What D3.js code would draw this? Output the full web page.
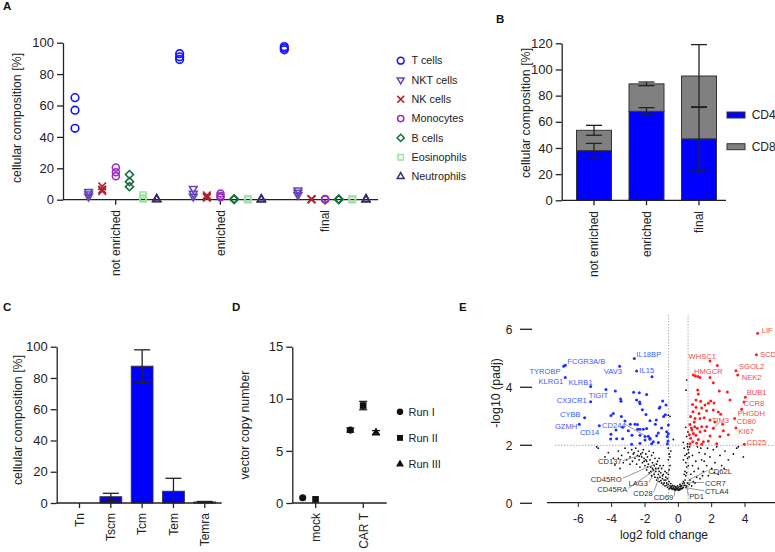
<!DOCTYPE html>
<html><head><meta charset="utf-8">
<script src="https://cdn.jsdelivr.net/npm/d3@7"></script>
<style>
body{margin:0;background:#fff}
svg{font-family:"Liberation Sans",Arial,Helvetica,sans-serif}
</style>
</head><body>
<svg id="fig" width="775" height="552"></svg>
<script>
// ---------------- DATA ----------------
// Panel A
const groupsA = ["not enriched", "enriched", "final"];
const cellTypes = ["T cells", "NKT cells", "NK cells", "Monocytes", "B cells", "Eosinophils", "Neutrophils"];
const ticksA = [0, 20, 40, 60, 80, 100];
const tCells      = [[65, 57, 45.5], [93, 91, 89.3], [97.5, 96.5, 95.5]];
const nktCells    = [[5, 3.5, 2], [7, 4, 2], [6, 4.5, 3]];
const nkCells     = [[8.5, 6.5, 5.5], [2.8, 1.8, 1.2], [0.4, 0.3, 0.2]];
const monocytes   = [[20.5, 17.5, 15], [4, 2.5, 1.5], [0.4, 0.3, 0.2]];
const bCells      = [[16, 11.5, 8.3], [0.4, 0.3, 0.2], [0.3, 0.2, 0.2]];
const eosinophils = [[3, 1, 0.5], [0.3, 0.2, 0.2], [0.3, 0.2, 0.2]];
const neutrophils = [[0.4, 0.3, 0.2], [0.3, 0.2, 0.2], [0.3, 0.2, 0.2]];

// Panel B
const groupsB = ["not enriched", "enriched", "final"];
const ticksB = [0, 20, 40, 60, 80, 100, 120];
const cd4Mean = [38, 68, 47];
const cd4Err  = [5.5, 2.8, 24.5];
const cd8Mean = [15.5, 21, 48];
const cd8Err  = [3.8, 1.4, 24];
const seriesB = ["CD4", "CD8"];

// Panel C
const subsets = ["Tn", "Tscm", "Tcm", "Tem", "Temra"];
const ticksC = [0, 20, 40, 60, 80, 100];
const subsetMean = [0, 4, 87.5, 7.5, 0.6];
const subsetErr  = [0, 2.2, 10.5, 8.3, 0.4];

// Panel D
const groupsD = ["mock", "CAR T"];
const runs = ["Run I", "Run II", "Run III"];
const ticksD = [0, 5, 10, 15];
const vcnMock = [0.5, 0.35, null];
const vcnCar  = [7.0, 9.35, 6.75];
const vcnCarErr = [0.2, 0.4, 0.2];

// Panel E
const ticksEx = [-6, -4, -2, 0, 2, 4];
const ticksEy = [0, 2, 4, 6];
const fcCut = 0.585, padjCut = 2;
const downGenes = [[-6.88,4.73],[-6.78,4.76],[-6.78,4.34],[-5.26,4.03],[-4.34,3.92],[-5.26,3.5],[-5.62,2.95],[-5.94,2.73],[-4.74,2.67],[-1.7,2.24],[-3.52,4.73],[-2.64,4.99],[-2.5,4.56],
 [-1.58,4.36],[-3.78,3.87],[-3.46,3.6],[-3.44,3.52],[-2.68,3.83],[-2.34,3.81],[-1.9,3.75],[-2.5,3.56],[-2.32,3.49],[-2.3,3.43],[-1.14,3.28],[-1.1,3.32],[-0.94,3.53],[-0.74,3.39],
 [-4.04,3.03],[-3.42,2.99],[-3.2,2.84],[-2.16,3.23],[-1.94,3.06],[-1.7,2.85],[-1.32,2.87],[-1.38,2.73],[-0.88,2.99],[-0.78,3.05],[-2.88,2.73],[-2.6,2.73],[-2.44,2.55],[-2.3,2.55],
 [-2.1,2.55],[-1.9,2.58],[-2.45,2.72],[-4.04,2.38],[-3.74,2.53],[-3.34,2.62],[-4.06,2.22],[-3.7,2.23],[-3.34,2.23],[-2.78,2.35],[-2.3,2.35],[-2.0,2.18],[-1.7,2.21],[-1.3,2.33],
 [-1.8,2.31],[-1.5,2.12],[-2.3,2.07],[-2.8,2.04],[-0.7,2.47],[-0.66,2.3],[-0.62,2.15],[-0.66,2.05],[-0.6,2.7],[-0.6,2.4],[-1.0,2.6],[-1.2,2.1],[-1.6,2.05],[-3.0,2.5],[-2.0,2.3],[-1.2,2.42],[-3.9,3.1]];
const upGenes = [[4.76,5.86],[4.68,5.12],[1.9,4.91],[2.34,4.75],[3.46,4.57],[3.56,4.42],[0.9,4.42],[1.02,4.39],[1.18,4.37],[1.3,4.34],[1.9,4.34],[2.1,4.16],
 [4.02,3.66],[3.94,3.49],[3.8,3.24],[3.38,2.92],[2.1,2.59],[3.46,2.6],[3.96,2.04],[2.94,3.84],[3.1,3.56],[2.46,3.87],[1.16,3.91],[1.2,3.77],[0.86,3.41],[1.06,3.56],
 [1.34,3.52],[1.6,3.39],[1.8,3.45],[1.94,3.53],[2.14,3.46],[1.06,3.31],[1.4,3.29],[0.88,3.16],[1.24,3.1],[1.7,3.19],[2.1,3.22],[2.4,3.15],[2.54,3.07],[0.74,2.99],[1.0,2.92],
 [1.3,2.92],[0.7,2.72],[0.98,2.64],[1.14,2.59],[1.4,2.64],[1.7,2.64],[1.9,2.87],[2.66,2.73],[2.7,2.5],[0.9,2.41],[1.3,2.47],[1.9,2.32],[2.5,2.3],[3.0,2.36],[0.66,2.36],
 [0.74,2.24],[0.86,2.12],[1.1,2.07],[1.4,2.04],[1.5,2.12],[0.82,2.53],[0.7,2.05],[1.2,2.2],[1.6,2.5],[2.2,2.8],[0.95,2.8],[1.55,2.95],[2.3,2.05],[1.05,2.35],[0.78,2.6],[1.8,2.15]];
const nsGenes = [[-4.9,1.95],[-4.8,1.9],[-4.2,1.75],[-3.9,1.55],[-3.8,1.32],[-3.6,1.8],[-3.6,1.55],[-3.4,1.65],[-3.2,1.9],[-3.1,1.5],[-3.0,1.75],[-2.9,1.6],[-2.8,1.85],[-2.75,1.45],[-2.7,1.7],
 [-2.6,1.55],[-2.55,1.9],[-2.5,1.35],[-2.45,1.65],[-2.4,1.8],[-2.35,1.5],[-2.3,1.25],[-2.25,1.7],[-2.2,1.6],[-2.15,1.4],[-2.1,1.85],[-2.05,1.55],[-2.0,1.3],[-1.95,1.7],[-1.9,1.45],
 [-1.9,1.15],[-1.85,1.6],[-1.8,1.35],[-1.75,1.8],[-1.75,1.05],[-1.7,1.5],[-1.65,1.25],[-1.6,1.65],[-1.6,0.95],[-1.55,1.4],[-1.5,1.15],[-1.5,1.75],[-1.45,1.3],[-1.4,0.9],[-1.4,1.55],
 [-1.35,1.1],[-1.3,1.35],[-1.3,0.8],[-1.25,1.45],[-1.2,1.0],[-1.2,1.2],[-1.15,0.75],[-1.1,1.3],[-1.1,0.9],[-1.05,1.05],[-1.0,0.7],[-1.0,1.2],[-0.95,0.85],[-0.9,1.0],[-0.9,0.65],
 [-0.85,0.8],[-0.8,1.1],[-0.8,0.6],[-0.75,0.9],[-0.7,0.7],[-0.65,0.55],[-0.65,0.85],[-0.6,0.65],[-0.55,0.75],[-0.55,0.5],[-0.5,0.6],[-0.45,0.68],[-0.4,0.5],[-0.4,0.58],[-0.35,0.62],
 [-0.3,0.48],[-0.3,0.55],[-0.25,0.6],[-0.2,0.45],[-0.2,0.52],[-0.15,0.57],[-0.1,0.47],[-0.1,0.53],[-0.05,0.5],[0,0.45],[0,0.55],[0.05,0.5],[0.1,0.47],[0.1,0.58],[0.15,0.52],
 [0.2,0.6],[0.2,0.5],[0.25,0.68],[0.3,0.55],[0.3,0.75],[0.35,0.62],[-0.6,1.9],[-0.55,1.7],[-0.6,1.5],[-0.5,1.3],[-0.55,1.15],[-0.6,1.0],[-0.45,1.8],[-0.5,1.6],
 [0.4,0.8],[0.45,0.95],[0.4,1.1],[0.5,1.25],[0.45,1.4],[0.55,1.55],[0.5,1.7],[0.6,1.85],[0.55,1.95],[0.35,1.0],[0.5,1.05],[0.6,1.3],[0.65,1.6],[0.62,1.75],[0.3,1.5],
 [0.35,1.9],[0.4,1.65],[0.68,1.95],[0.8,0.6],[0.9,0.75],[1.0,0.7],[1.1,0.9],[0.95,1.1],[1.2,1.2],[1.3,0.85],[1.4,1.5],[1.5,1.1],[1.6,1.7],[1.7,1.3],[1.8,0.95],[1.9,1.6],
 [2.0,1.2],[2.1,1.85],[2.2,1.4],[2.4,1.0],[2.5,1.65],[2.6,1.3],[2.8,1.8],[3.0,1.5],[3.3,1.7],[3.5,1.9],[3.9,1.6],[1.05,1.45],[1.25,1.75],[1.45,0.95],[0.85,1.3],[0.75,1.0],
 [0.7,0.8],[0.65,0.65],[0.55,0.7],[0.5,0.6],[0.45,0.55],[-0.5,3.0],[-0.6,3.04],[0.46,3.9],[0.44,2.62],[0.58,2.46],[0.5,4.25],[0.3,2.1],[-0.3,2.2],[0.5,2.3],[0.55,2.05],
 [-2.65,1.75],[-2.35,1.62],[-2.05,1.45],[-1.85,1.25],[-1.65,1.1],[-1.45,1.0],[-1.25,0.88],[-1.05,0.78],[-0.85,0.7],[-0.7,0.62],[-0.5,0.52],[-0.35,0.5],[-0.15,0.48],[0.05,0.47],
 [0.15,0.6],[0.25,0.52],[0.35,0.7],[0.4,0.62],[-0.25,0.5],[-0.45,0.55],[-0.05,0.6],[0.1,0.65],[-1.95,1.5],[-2.15,1.75],[-1.55,1.2],[-1.35,1.2],[-1.15,1.1],[-0.95,0.95],[-0.75,0.8],
 [-3.3,1.4],[-2.9,1.35],[-3.5,1.2],[-4.4,1.6],[-1.15,1.55],[-0.9,1.3],[-0.7,1.05],[1.15,1.95],[1.35,1.9],[1.75,1.9],[2.3,1.95],[0.85,1.65],[1.55,1.45],[2.15,1.05],[3.6,1.95],[2.75,1.2]];
const labelsDown = [["TYROBP",-6.88,4.73],["FCGR3A/B",-6.78,4.76],["KLRG1",-6.78,4.34],["KLRB1",-5.26,4.03],["TIGIT",-4.34,3.92],["CX3CR1",-5.26,3.5],["CYBB",-5.62,2.95],["GZMH",-5.94,2.73],["CD14",-4.74,2.67],["CD244",-1.7,2.24],["VAV3",-3.52,4.73],["IL18BP",-2.64,4.99],["IL15",-2.5,4.56]];
const labelsUp = [["LIF",4.76,5.86],["SCD",4.68,5.12],["WHSC1",1.9,4.91],["HMGCR",1.18,4.37],["SGOL2",3.46,4.57],["NEK2",3.56,4.42],["BUB1",4.02,3.66],["CCR8",3.94,3.49],["PHGDH",3.8,3.24],["CD80",3.38,2.92],["TIM3",2.1,2.59],["KI67",3.46,2.6],["CD25",3.96,2.04]];
const labelsNs = [["CD137",-2.2,1.67],["CD45RO",-1.3,1.38],["CD45RA",-1.1,1.26],["LAG3",-1.4,1.09],["CD28",-1.1,0.98],["CD69",-0.2,0.48],["PD1",0.5,0.55],["CTLA4",0.4,0.54],["CCR7",0.5,0.71],["CD62L",0.6,0.8]];

// ---------------- LAYOUT (label offsets in px: dx, dy, anchor, leader) ----------------
const labelLayout = {
  "TYROBP":[-3,5,"end",0],"FCGR3A/B":[2,-3.6,"start",0],"KLRG1":[-2,4.3,"end",0],"KLRB1":[2,-4,"end",0],
  "TIGIT":[2.3,5.4,"end",0],"CX3CR1":[-4,-1.5,"end",0],"CYBB":[-4,-3,"end",0],"GZMH":[-2,2.6,"end",0],
  "CD14":[0,6.8,"end",0],"CD244":[-48,-13,"start",1],"VAV3":[2.4,5,"end",0],"IL18BP":[2,-4.6,"start",0],"IL15":[2.7,-1,"start",0],
  "LIF":[4,-2.7,"start",0],"SCD":[3.7,-0.5,"start",0],"WHSC1":[6,-5,"end",0],"HMGCR":[-4,-5.6,"start",0],
  "SGOL2":[3,-4,"start",0],"NEK2":[4,2.2,"start",0],"BUB1":[1.4,-4.8,"start",0],"CCR8":[-0.5,1.3,"start",0],
  "PHGDH":[-4,3.8,"start",0],"CD80":[2,3,"start",0],"TIM3":[-1.6,-8,"start",1],"KI67":[2.3,3,"start",0],"CD25":[2.4,-1.4,"start",0],
  "CD137":[-20,6.8,"end",1],"CD45RO":[-35,16,"end",1],"CD45RA":[-32.7,22.5,"end",1],"LAG3":[-7,11.6,"end",1],
  "CD28":[-7.3,18.4,"end",1],"CD69":[-1.7,7.9,"end",1],"PD1":[2.6,8.5,"start",1],"CTLA4":[20,4.1,"start",1],
  "CCR7":[18.4,0.6,"start",1],"CD62L":[20,-8.4,"start",1]
};

// ---------------- DRAW ----------------
const svg = d3.select("#fig");
const ink = "#222";
const fs = 12;      // category labels / titles
const fsTick = 13;  // numeric tick labels (panels A-D)

function styleAxis(g){
  g.selectAll("path.domain").attr("stroke", ink).attr("stroke-width", 1.3);
  g.selectAll(".tick line").attr("stroke", ink).attr("stroke-width", 1.3);
  g.selectAll(".tick text").attr("fill", ink).style("font-size", fsTick + "px").style("font-family", "Liberation Sans, Arial, sans-serif");
}
function panelLetter(t, x, y){
  svg.append("text").attr("x", x).attr("y", y).text(t).attr("font-weight", "bold").attr("font-size", 11.5).attr("fill", "#111");
}
function yTitle(t, x, y){
  svg.append("text").attr("transform", `translate(${x},${y}) rotate(-90)`).attr("text-anchor", "middle")
    .attr("font-size", 12.4).attr("fill", ink).text(t);
}
function xCatLabels(scale, cats, y0){
  cats.forEach(c => {
    svg.append("text").attr("transform", `translate(${scale(c)},${y0}) rotate(-90)`)
      .attr("text-anchor", "end").attr("dy", "0.35em").attr("font-size", fs).attr("fill", ink).text(c);
  });
}
function xAxisLine(x0, x1, y, ticksX){
  svg.append("line").attr("x1", x0).attr("x2", x1).attr("y1", y).attr("y2", y).attr("stroke", ink).attr("stroke-width", 1.3);
  ticksX.forEach(tx => svg.append("line").attr("x1", tx).attr("x2", tx).attr("y1", y).attr("y2", y + 5).attr("stroke", ink).attr("stroke-width", 1.3));
}
function errBar(x, yScale, m, e, cw, color){
  const lo = Math.max(0, m - e), hi = m + e;
  svg.append("line").attr("x1", x).attr("x2", x).attr("y1", yScale(lo)).attr("y2", yScale(hi)).attr("stroke", color).attr("stroke-width", 1.3);
  const caps = m - e >= 0 ? [hi, lo] : [hi];
  caps.forEach(v => svg.append("line").attr("x1", x - cw/2).attr("x2", x + cw/2).attr("y1", yScale(v)).attr("y2", yScale(v)).attr("stroke", color).attr("stroke-width", 1.3));
}

// ===== Panel A =====
panelLetter("A", 3, 10);
const yA = d3.scaleLinear().domain([0, 100]).range([199.7, 42.7]);
const xA = d3.scalePoint().domain(groupsA).range([115.7, 325]);
const offA = d3.scalePoint().domain(cellTypes).range([-40.7, 41]);
svg.append("g").attr("transform", "translate(63,0)")
  .call(d3.axisLeft(yA).tickValues(ticksA).tickSize(6).tickSizeOuter(0).tickPadding(3)).call(styleAxis);
xAxisLine(63, 378, 199.7, groupsA.map(g => xA(g)));
xCatLabels(xA, groupsA, 210);
yTitle("cellular composition [%]", 21, 118);

const seriesA = [tCells, nktCells, nkCells, monocytes, bCells, eosinophils, neutrophils];
const colA = ["#1414ff", "#6a46b8", "#b0202c", "#9a2cc0", "#16703e", "#9ee09e", "#3b2d70"];
const symA = [
  {t: d3.symbolCircle, s: 46, r: 0},
  {t: d3.symbolTriangle2, s: 42, r: 180},
  {t: d3.symbolTimes, s: 40, r: 0},
  {t: d3.symbolCircle, s: 38, r: 0},
  {t: d3.symbolDiamond2, s: 42, r: 0},
  {t: d3.symbolSquare2, s: 46, r: 0},
  {t: d3.symbolTriangle2, s: 42, r: 0}
];
const gA = svg.append("g");
seriesA.forEach((ser, si) => {
  ser.forEach((vals, gi) => {
    vals.forEach(v => {
      gA.append("path").attr("d", d3.symbol(symA[si].t, symA[si].s)())
        .attr("transform", `translate(${xA(groupsA[gi]) + offA(cellTypes[si])},${yA(v)}) rotate(${symA[si].r})`)
        .attr("fill", "none").attr("stroke", colA[si]).attr("stroke-width", 1.6);
    });
  });
});
cellTypes.forEach((c, i) => {
  const y = 60.7 + i * 19.3;
  svg.append("path").attr("d", d3.symbol(symA[i].t, symA[i].s * 0.8)())
    .attr("transform", `translate(400.7,${y}) rotate(${symA[i].r})`)
    .attr("fill", "none").attr("stroke", colA[i]).attr("stroke-width", 1.5);
  svg.append("text").attr("x", 411.5).attr("y", y).attr("dy", "0.35em").attr("font-size", 10.8).attr("fill", ink).text(c);
});

// ===== Panel B =====
panelLetter("B", 496, 22.5);
const yB = d3.scaleLinear().domain([0, 120]).range([200.3, 43.3]);
const xB = d3.scaleBand().domain(groupsB).range([567.75, 725.25]).paddingInner(1/3).paddingOuter(1/6);
const cxB = g => xB(g) + xB.bandwidth() / 2;
svg.append("g").attr("transform", "translate(561.7,0)")
  .call(d3.axisLeft(yB).tickValues(ticksB).tickSize(6).tickSizeOuter(0).tickPadding(3)).call(styleAxis);
const colB = {CD4: "#0000ff", CD8: "#808080"};
groupsB.forEach((g, i) => {
  const x = xB(g), w = xB.bandwidth();
  svg.append("rect").attr("x", x).attr("width", w).attr("y", yB(cd4Mean[i])).attr("height", yB(0) - yB(cd4Mean[i]))
    .attr("fill", colB.CD4).attr("stroke", "#333").attr("stroke-width", 1);
  svg.append("rect").attr("x", x).attr("width", w).attr("y", yB(cd4Mean[i] + cd8Mean[i])).attr("height", yB(0) - yB(cd8Mean[i]))
    .attr("fill", colB.CD8).attr("stroke", "#333").attr("stroke-width", 1);
});
groupsB.forEach((g, i) => {
  errBar(cxB(g), yB, cd4Mean[i], cd4Err[i], 16, ink);
  errBar(cxB(g), yB, cd4Mean[i] + cd8Mean[i], cd8Err[i], 16, ink);
});
xAxisLine(561.7, 726, 200.3, groupsB.map(cxB));
xCatLabels(cxB, groupsB, 211);
yTitle("cellular composition [%]", 530, 113);
seriesB.forEach((s, i) => {
  const y = 115 + i * 31.7;
  svg.append("rect").attr("x", 727).attr("y", y - 3).attr("width", 18).attr("height", 6).attr("fill", colB[s]).attr("stroke", "#333").attr("stroke-width", 1);
  svg.append("text").attr("x", 751.7).attr("y", y).attr("dy", "0.35em").attr("font-size", fs).attr("fill", ink).text(s);
});

// ===== Panel C =====
panelLetter("C", 3, 311);
const yC = d3.scaleLinear().domain([0, 100]).range([503, 346.7]);
const xC = d3.scaleBand().domain(subsets).range([63.85, 220.45]).paddingInner(0.307).paddingOuter(0.1535);
const cxC = s => xC(s) + xC.bandwidth() / 2;
svg.append("g").attr("transform", "translate(56.7,0)")
  .call(d3.axisLeft(yC).tickValues(ticksC).tickSize(6).tickSizeOuter(0).tickPadding(3)).call(styleAxis);
subsets.forEach((s, i) => {
  if (subsetMean[i] > 0) svg.append("rect").attr("x", xC(s)).attr("width", xC.bandwidth()).attr("y", yC(subsetMean[i]))
    .attr("height", yC(0) - yC(subsetMean[i])).attr("fill", "#0000ff").attr("stroke", "#333").attr("stroke-width", 1);
});
subsets.forEach((s, i) => {
  if (subsetErr[i] > 0) errBar(cxC(s), yC, subsetMean[i], subsetErr[i], 16, ink);
});
xAxisLine(56.7, 221.7, 503, subsets.map(cxC));
xCatLabels(cxC, subsets, 513);
yTitle("cellular composition [%]", 21.5, 420);

// ===== Panel D =====
panelLetter("D", 232, 311);
const yD = d3.scaleLinear().domain([0, 15]).range([503, 346.7]);
const xD = d3.scalePoint().domain(groupsD).range([315.7, 363.3]);
const offD = d3.scalePoint().domain(runs).range([-13, 12.7]);
svg.append("g").attr("transform", "translate(292.3,0)")
  .call(d3.axisLeft(yD).tickValues(ticksD).tickSize(6).tickSizeOuter(0).tickPadding(3)).call(styleAxis);
xAxisLine(292.3, 386.7, 503, groupsD.map(g => xD(g)));
xCatLabels(xD, groupsD, 513);
yTitle("vector copy number", 248.5, 425);
const symD = [d3.symbolCircle, d3.symbolSquare, d3.symbolTriangle];
const sizeD = [40, 44, 34];
runs.forEach((r, i) => {
  [vcnMock, vcnCar].forEach((arr, gi) => {
    if (arr[i] == null) return;
    const x = xD(groupsD[gi]) + offD(r);
    if (gi === 1) errBar(x, yD, arr[i], vcnCarErr[i], 8, ink);
    svg.append("path").attr("d", d3.symbol(symD[i], sizeD[i])()).attr("transform", `translate(${x},${yD(arr[i])})`).attr("fill", "#111");
  });
});
runs.forEach((r, i) => {
  const y = 411.7 + i * 26.2;
  svg.append("path").attr("d", d3.symbol(symD[i], sizeD[i] * 0.8)()).attr("transform", `translate(400,${y})`).attr("fill", "#111");
  svg.append("text").attr("x", 408.5).attr("y", y).attr("dy", "0.35em").attr("font-size", 11).attr("fill", ink).text(r);
});

// ===== Panel E =====
panelLetter("E", 459, 311);
const xE = d3.scaleLinear().domain([-6, 4]).range([578.3, 745]);
const yE = d3.scaleLinear().domain([0, 6]).range([503.3, 329.3]);
ticksEy.forEach(t => {
  svg.append("line").attr("x1", 520).attr("x2", 532).attr("y1", yE(t)).attr("y2", yE(t)).attr("stroke", ink).attr("stroke-width", 1.3);
  svg.append("text").attr("x", 512.5).attr("y", yE(t)).attr("dy", "0.35em").attr("text-anchor", "end").attr("font-size", fs).attr("fill", ink).text(t);
});
svg.append("line").attr("x1", 547).attr("x2", 775).attr("y1", 502.6).attr("y2", 502.6).attr("stroke", ink).attr("stroke-width", 1.3);
ticksEx.forEach(t => {
  svg.append("line").attr("x1", xE(t)).attr("x2", xE(t)).attr("y1", 502.6).attr("y2", 507).attr("stroke", ink).attr("stroke-width", 1);
  svg.append("text").attr("x", xE(t)).attr("y", 518.5).attr("dy", "0.35em").attr("text-anchor", "middle").attr("font-size", fs).attr("fill", ink).text(t);
});
svg.append("text").attr("x", 664).attr("y", 535).attr("dy", "0.35em").attr("text-anchor", "middle").attr("font-size", fs).attr("fill", ink).text("log2 fold change");
yTitle("-log10 (padj)", 500, 393);
[-fcCut, fcCut].forEach(v => svg.append("line").attr("x1", xE(v)).attr("x2", xE(v)).attr("y1", 315).attr("y2", 502).attr("stroke", "#999").attr("stroke-width", 0.8).attr("stroke-dasharray", "1.5,1.5"));
svg.append("line").attr("x1", 555).attr("x2", 775).attr("y1", yE(padjCut)).attr("y2", yE(padjCut)).attr("stroke", "#999").attr("stroke-width", 0.8).attr("stroke-dasharray", "1.5,1.5");
const gE = svg.append("g");
nsGenes.forEach(d => gE.append("circle").attr("cx", xE(d[0])).attr("cy", yE(d[1])).attr("r", 0.9).attr("fill", "#111"));
downGenes.forEach(d => gE.append("circle").attr("cx", xE(d[0])).attr("cy", yE(d[1])).attr("r", 1.5).attr("fill", "#1f2fff"));
upGenes.forEach(d => gE.append("circle").attr("cx", xE(d[0])).attr("cy", yE(d[1])).attr("r", 1.5).attr("fill", "#ff1f1f"));
function drawLabels(list, color){
  list.forEach(([name, vx, vy]) => {
    const [dx, dy, anchor, leader] = labelLayout[name];
    const px = xE(vx), py = yE(vy);
    const tx = px + dx, ty = py + dy;
    if (leader) {
      const w = name.length * 4.4;
      let lx = anchor === "end" ? tx + 1 : tx - 1;
      if (name === "CD244") lx = tx + w + 1;
      if (name === "TIM3") lx = tx + 7;
      svg.append("line").attr("x1", lx).attr("y1", name === "TIM3" ? ty + 3 : ty - 1).attr("x2", px).attr("y2", py).attr("stroke", "#555").attr("stroke-width", 0.6);
    }
    svg.append("text").attr("x", tx).attr("y", ty).attr("dy", "0.35em").attr("text-anchor", anchor)
      .attr("font-size", 7.6).attr("fill", color).text(name);
  });
}
drawLabels(labelsDown, "#3b5bff");
drawLabels(labelsUp, "#f04a4a");
drawLabels(labelsNs, "#333");
</script>
</body></html>
